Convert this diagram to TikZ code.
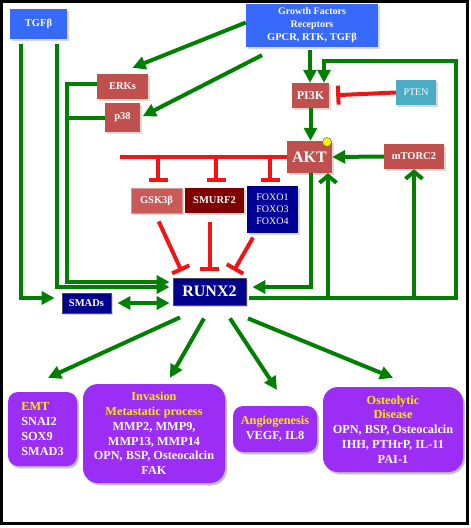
\documentclass[tikz,border=0pt]{standalone}
\usepackage{fontspec}
\setmainfont{Liberation Serif}
\usetikzlibrary{arrows.meta,shadows,calc}
\definecolor{grn}{RGB}{0,128,0}
\definecolor{rd}{RGB}{240,20,20}
\definecolor{topblue}{RGB}{55,105,250}
\definecolor{brick}{RGB}{192,80,77}
\definecolor{gskred}{RGB}{200,90,88}
\definecolor{maroon}{RGB}{128,0,0}
\definecolor{navy}{RGB}{0,0,150}
\definecolor{runxblue}{RGB}{0,0,140}
\definecolor{ptenblue}{RGB}{75,172,198}
\definecolor{purp}{RGB}{155,45,245}
\definecolor{yel}{RGB}{255,235,0}
\begin{document}
\begin{tikzpicture}[x=1pt,y=-1pt,
  box/.style={inner sep=0pt, text=white, align=center,
    font=\bfseries\fontsize{10.5}{12.5}\selectfont,
    drop shadow={shadow xshift=1.5pt,shadow yshift=-1.5pt,opacity=0.3}},
  rbox/.style={box, fill=brick},
  bbox/.style={box, fill=topblue},
  dbox/.style={box, fill=runxblue, draw=black!70, line width=0.8pt},
  pbox/.style={box, fill=purp, rounded corners=12pt,
    font=\bfseries\fontsize{12.3}{14.8}\selectfont,
    drop shadow={shadow xshift=2pt,shadow yshift=-2.5pt,opacity=0.35}},
  gl/.style={draw=grn, line width=4pt},
  ga/.style={gl, -{Triangle[length=13pt,width=13pt]}},
  gaa/.style={gl, {Triangle[length=13pt,width=13pt]}-{Triangle[length=13pt,width=13pt]}},
  gb/.style={gl, -{Straight Barb[length=7pt,width=17pt,line width=4pt]}},
  rl/.style={draw=rd, line width=4pt},
  rt/.style={rl, -{Bar[width=19pt,line width=4pt]}},
  yt/.style={text=yel}
]
\useasboundingbox (0,0) rectangle (471,528);
\draw[line width=3pt, black] (1.5,1.5) rectangle (467.5,523.5);

% nodes
\node[bbox, minimum width=57pt, minimum height=30pt] (tgf) at (38.5,24) {TGFβ};
\node[bbox, minimum width=132pt, minimum height=43pt, font=\bfseries\fontsize{10}{13}\selectfont] (gf) at (312,25.5) {Growth Factors\\Receptors\\{\fontsize{10.5}{13}\selectfont GPCR, RTK, TGFβ}};
\node[rbox, minimum width=51pt, minimum height=25pt] (erk) at (122.5,86.5) {ERKs};
\node[rbox, minimum width=35pt, minimum height=29pt] (p38) at (122.5,117.5) {p38};
\node[rbox, minimum width=37pt, minimum height=25pt, font=\bfseries\fontsize{12}{14}\selectfont] (pi3k) at (310.5,95.5) {PI3K};
\node[box, fill=ptenblue, minimum width=40pt, minimum height=25pt, font=\fontsize{10}{12}\selectfont] (pten) at (416,92.5) {PTEN};
\node[rbox, minimum width=45pt, minimum height=32pt, font=\bfseries\fontsize{16}{18}\selectfont] (akt) at (309.5,157) {AKT};
\node[rbox, minimum width=60pt, minimum height=25pt] (mtorc) at (414,156.5) {mTORC2};
\node[box, fill=gskred, draw=brick!60, line width=0.6pt, minimum width=51pt, minimum height=25pt] (gsk) at (156.5,200.5) {GSK3β};
\node[box, fill=maroon, minimum width=59pt, minimum height=25pt] (smurf) at (214.5,200.5) {SMURF2};
\node[box, fill=navy, minimum width=51pt, minimum height=47pt, font=\fontsize{10}{11.8}\selectfont] (foxo) at (272.5,209.5) {FOXO1\\FOXO3\\FOXO4};
\node[dbox, minimum width=73pt, minimum height=27pt, font=\bfseries\fontsize{16}{18}\selectfont] (runx) at (209.5,291.5) {RUNX2};
\node[dbox, minimum width=49pt, minimum height=20pt] (smads) at (86.5,303) {SMADs};
\fill[yellow, draw=black!60, line width=0.5pt] (327,142) circle (4.5pt);

\node[pbox, minimum width=69pt, minimum height=74pt, align=left, rounded corners=10pt] (emt) at (42.5,429) {\textcolor{yel}{EMT}\\SNAI2\\SOX9\\SMAD3};
\node[pbox, minimum width=142pt, minimum height=99pt, rounded corners=15pt] (inv) at (154,433.5) {\textcolor{yel}{Invasion}\\\textcolor{yel}{Metastatic process}\\MMP2, MMP9,\\MMP13, MMP14\\OPN, BSP, Osteocalcin\\FAK};
\node[pbox, minimum width=84pt, minimum height=46pt, rounded corners=10pt] (ang) at (275,429) {\textcolor{yel}{Angiogenesis}\\VEGF, IL8};
\node[pbox, minimum width=140pt, minimum height=85pt, rounded corners=15pt] (ost) at (393,429.5) {\textcolor{yel}{Osteolytic}\\\textcolor{yel}{Disease}\\OPN, BSP, Osteocalcin\\IHH, PTHrP, IL-11\\PAI-1};

% helper coordinates
\coordinate (xa) at (21,0);
\coordinate (xb) at (57,0);
\coordinate (xe) at (67,0);
\coordinate (lp) at (456,61);
\coordinate (ua) at (328,298);
\coordinate (rl) at (120,0);
\coordinate (rw1) at ([yshift=9.5pt]runx.west);
\coordinate (rw2) at ([yshift=4.5pt]runx.west);
\coordinate (sw) at ([yshift=5pt]smads.west);

% TGFb lines
\draw[ga, shorten <=5pt, shorten >=7pt] (xa |- tgf.south) |- (sw);
\draw[ga, shorten <=5pt, shorten >=3pt] (xb |- tgf.south) |- (rw2);
% ERKs / p38
\draw[ga, shorten >=3pt] ([yshift=3pt]erk.west) -| (xe |- rw1) -- (rw1);
\draw[gl] (p38.west) -- (p38.west -| xe);
% GF to ERKs, p38
\draw[ga] ([yshift=3pt]gf.west) -- ($(erk.north)+(10,-6)$);
\draw[ga, shorten >=3pt] ($(gf.south)+(-50,8)$) -- (p38.east);
% GF to PI3K
\draw[ga, shorten <=3pt] ([xshift=-0.5pt]pi3k.north |- gf.south) -- ([xshift=-0.5pt]pi3k.north);
% loop
\draw[ga, shorten <=3pt] ([yshift=-6.5pt]runx.east) -| (lp) -| ([xshift=13.5pt]pi3k.north);
\draw[gb] (ua) -- (ua |- akt.south);
\draw[gb] (mtorc.south |- ua) -- (mtorc.south);
% AKT to RUNX2
\draw[ga, shorten >=6pt] ([xshift=1.5pt]akt.south) |- ([yshift=4.5pt]runx.east);
% PI3K to AKT
\draw[ga] (pi3k.south) -- (pi3k.south |- akt.north);
% mTORC2 to AKT
\draw[ga] (mtorc.west) -- (akt.east);
% PTEN -| PI3K
\draw[rt, shorten >=7pt] (pten.west) -- (pi3k.east);
% AKT inhibitions
\draw[rl] (akt.west) -- (rl |- akt.west);
\draw[rt, shorten >=6pt] ([xshift=1.5pt]gsk.north |- akt.west) -- ([xshift=1.5pt]gsk.north);
\draw[rt, shorten >=6pt] ([xshift=1.5pt]smurf.north |- akt.west) -- ([xshift=1.5pt]smurf.north);
\draw[rt, shorten >=4pt] ([xshift=-2.5pt]foxo.north |- akt.west) -- ([xshift=-2.5pt]foxo.north);
% inhibitions of RUNX2
\draw[rt, shorten <=9pt, shorten >=7pt] ([xshift=-1.5pt]gsk.south) -- ([xshift=-25pt]runx.north);
\draw[rt, shorten <=9pt, shorten >=7pt] ([xshift=-5pt]smurf.south) -- ([xshift=-5pt]smurf.south |- runx.north);
\draw[rt, shorten <=5pt, shorten >=8pt] ([xshift=-17pt]foxo.south) -- ([xshift=20.5pt]runx.north);
% SMADs <-> RUNX2
\draw[gaa, shorten <=6pt, shorten >=3pt] (smads.east) -- (smads.east -| runx.west);
% RUNX2 outputs
\draw[ga] ($(runx.south)+(-29.5,12)$) -- ($(emt.north)+(5.5,-14)$);
\draw[ga] ($(runx.south)+(-5.5,13)$) -- ($(inv.north)+(16,-6)$);
\draw[ga] ($(runx.south)+(20.5,13)$) -- ($(ang.north)+(2,-16)$);
\draw[ga] ($(runx.south)+(38.5,13)$) -- ($(ost.north)+(0,-9)$);
\end{tikzpicture}
\end{document}
